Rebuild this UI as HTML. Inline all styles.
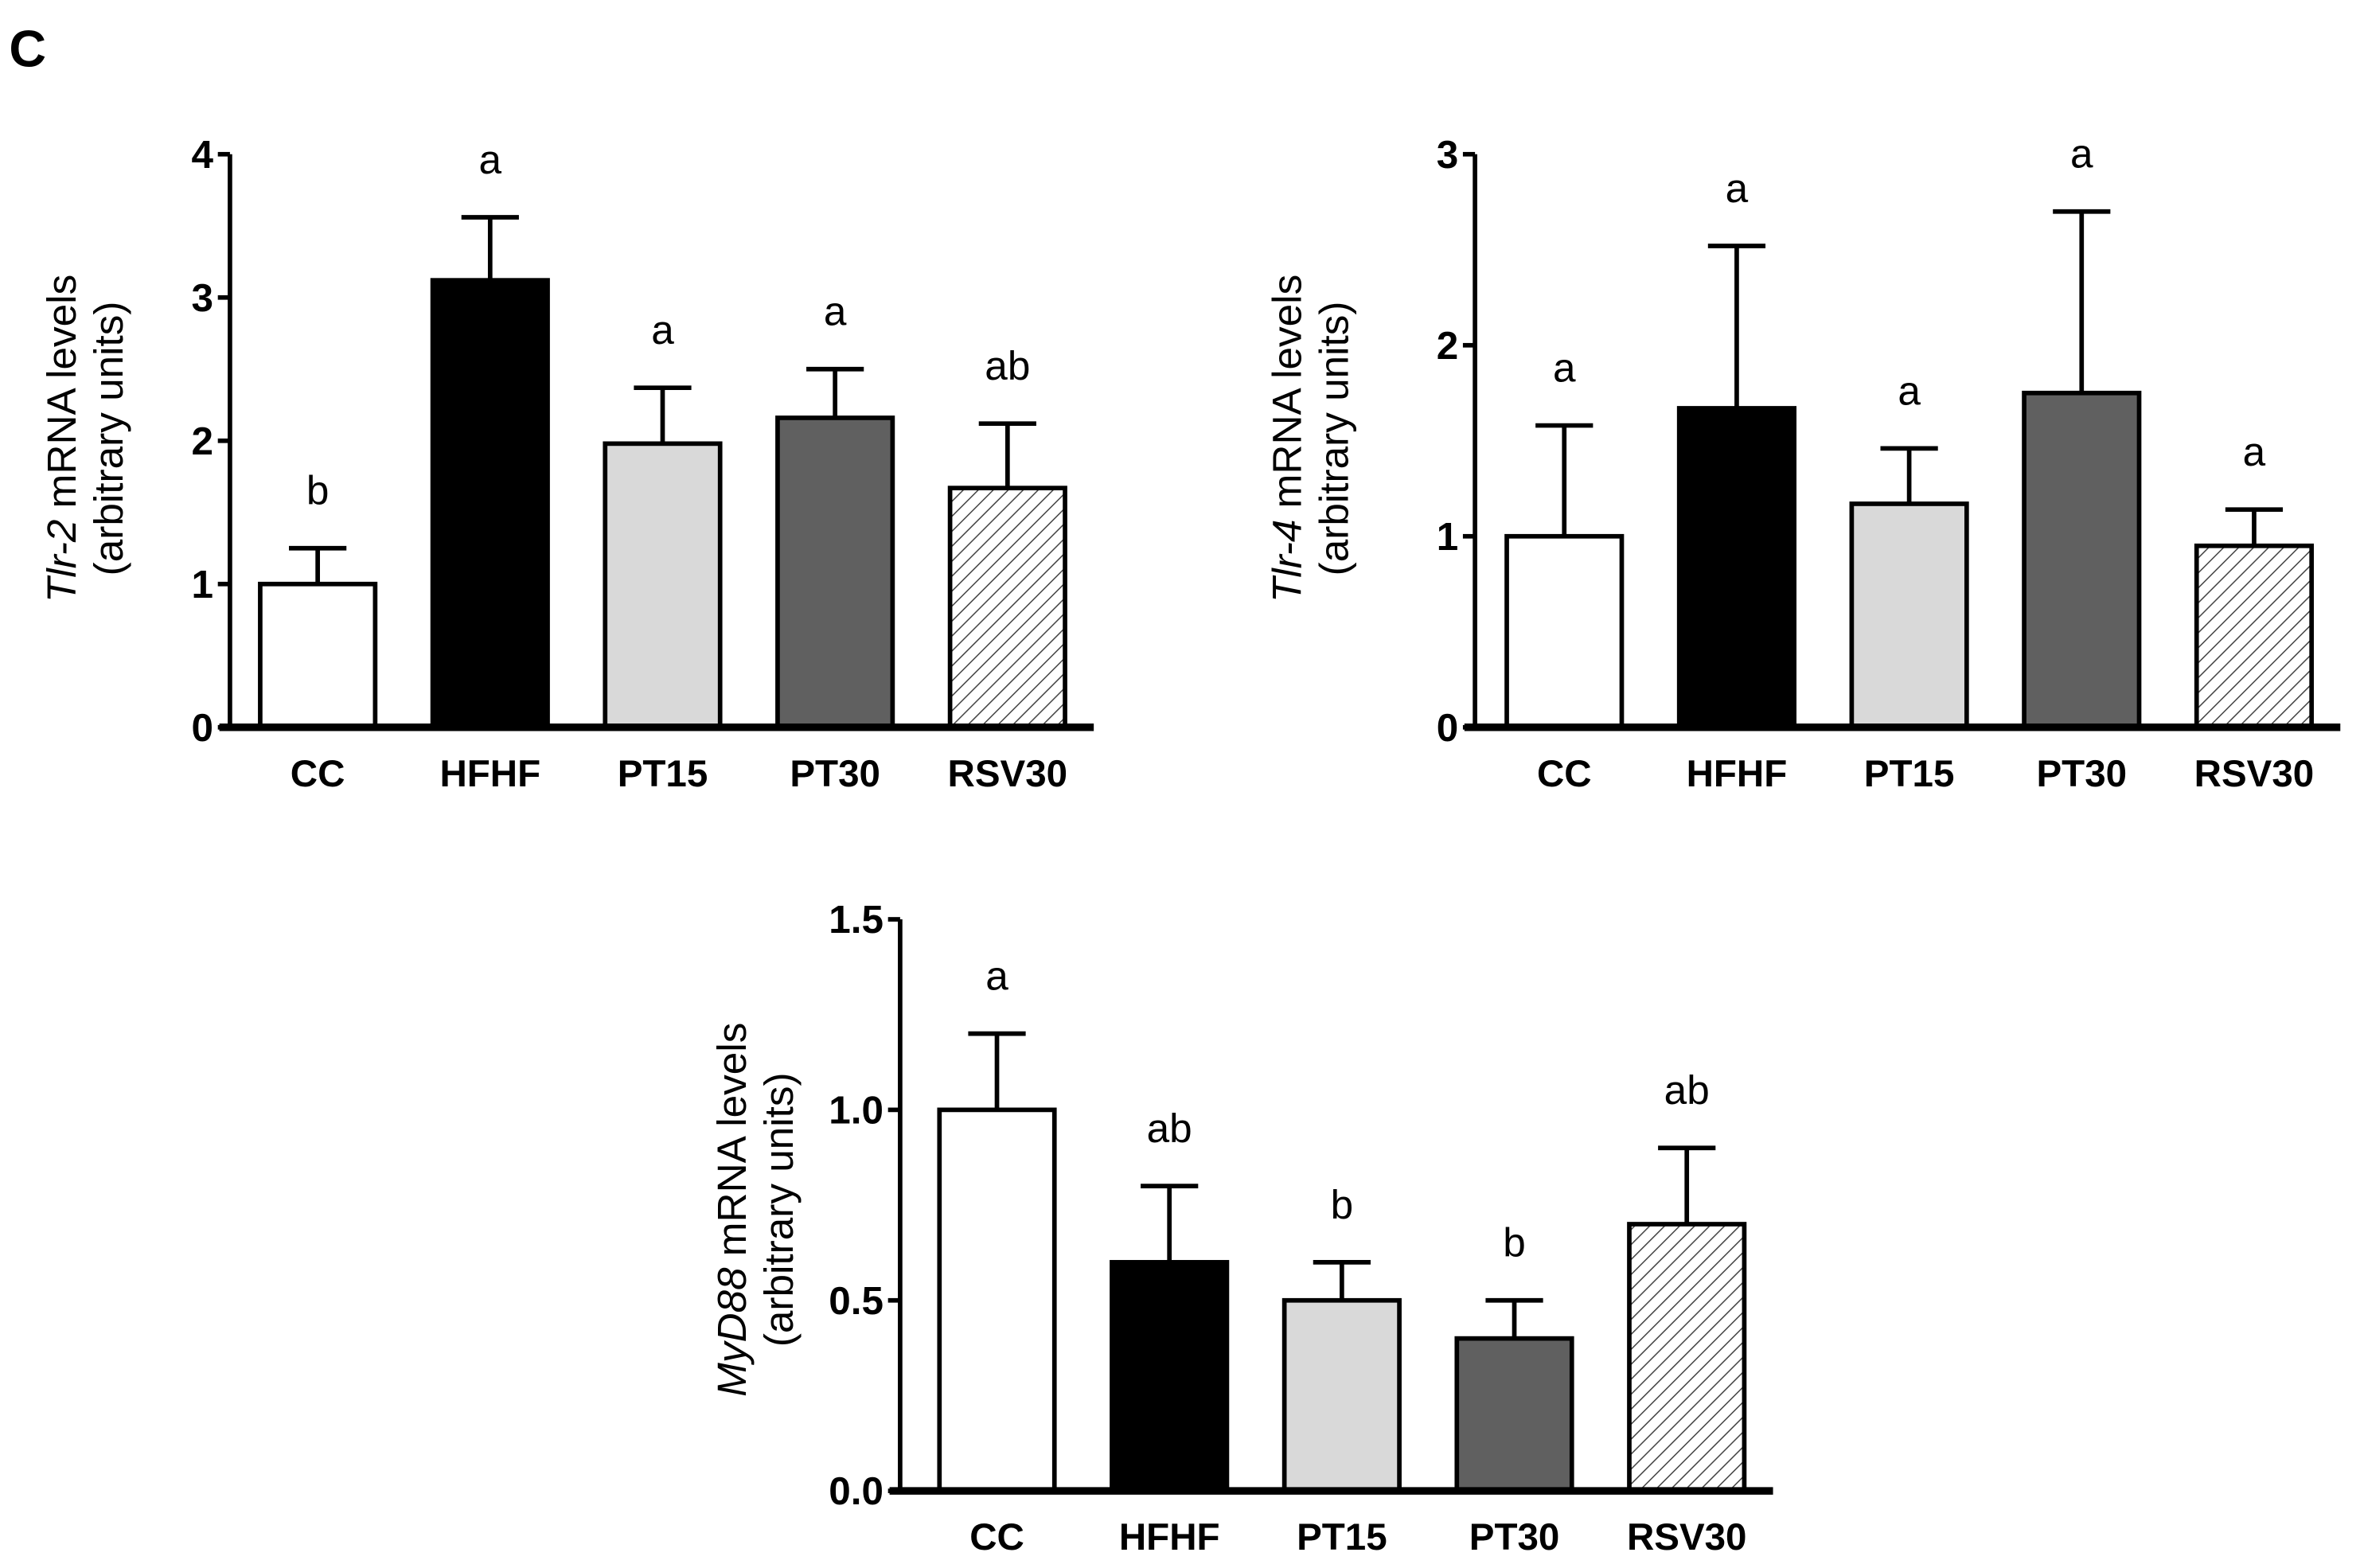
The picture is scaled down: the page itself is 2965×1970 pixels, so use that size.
<!DOCTYPE html>
<html><head><meta charset="utf-8"><style>html,body{margin:0;padding:0;background:#fff}svg{display:block}</style></head>
<body>
<svg id="fig" width="2965" height="1970" viewBox="0 0 1560 1037" preserveAspectRatio="none" xmlns="http://www.w3.org/2000/svg" font-family="'Liberation Sans', Arial, sans-serif">
<defs>
<pattern id="hatch" patternUnits="userSpaceOnUse" width="7" height="7" patternTransform="rotate(45)">
<rect width="7" height="7" fill="#fff"/><line x1="0" y1="0" x2="0" y2="7" stroke="#444" stroke-width="1.6"/>
</pattern>
</defs>
<text x="6" y="44" font-size="34" font-weight="bold">C</text>
</svg>
<script>
const categories = ["CC","HFHF","PT15","PT30","RSV30"];
const tlr2Values = [1.0, 3.12, 1.98, 2.16, 1.67];
const tlr2Errors = [1.25, 3.56, 2.37, 2.50, 2.12];
const tlr2Letters = ["b","a","a","a","ab"];
const tlr2Ticks = ["0","1","2","3","4"];
const tlr4Values = [1.0, 1.67, 1.17, 1.75, 0.95];
const tlr4Errors = [1.58, 2.52, 1.46, 2.70, 1.14];
const tlr4Letters = ["a","a","a","a","a"];
const tlr4Ticks = ["0","1","2","3"];
const myd88Values = [1.0, 0.6, 0.5, 0.4, 0.7];
const myd88Errors = [1.2, 0.8, 0.6, 0.5, 0.9];
const myd88Letters = ["a","ab","b","b","ab"];
const myd88Ticks = ["0.0","0.5","1.0","1.5"];

const fills = ["#ffffff","#000000","#d9d9d9","#606060","url(#hatch)"];
const svg = document.getElementById('fig');
const NS = "http://www.w3.org/2000/svg";
function mk(tag, attrs, parent){const e=document.createElementNS(NS,tag);for(const k in attrs)e.setAttribute(k,attrs[k]);(parent||svg).appendChild(e);return e;}

function chart(opt){
  const g = mk('g',{});
  
  
  const yMax = parseFloat(opt.ticks[opt.ticks.length-1]);
  const yS = v => opt.y0 - (v / yMax) * (opt.y0 - opt.yTop);
  const xS = i => opt.x0 + i * opt.step;
  opt.values.forEach((v,i)=>{
    const cx = xS(i), w = 76;
    const eb = mk('line',{x1:cx,x2:cx,y1:yS(v),y2:yS(opt.errors[i]),stroke:'#000','stroke-width':3},g);
    
    
    const cap = mk('line',{x1:cx-19,x2:cx+19,y1:yS(opt.errors[i]),y2:yS(opt.errors[i]),stroke:'#000','stroke-width':3},g);
    
    
    const r = mk('rect',{x:cx-w/2,y:yS(v),width:w,height:opt.y0-yS(v),fill:fills[i],stroke:'#000','stroke-width':3},g);
    
    
    const lt = mk('text',{x:cx,y:yS(opt.errors[i])-29,'text-anchor':'middle','font-size':27},g);
    lt.textContent = opt.letters[i];
    
    
    const cl = mk('text',{x:cx,y:opt.y0+39,'text-anchor':'middle','font-size':25,'font-weight':'bold'},g);
    cl.textContent = categories[i];
    
    
  });
  const ya = mk('line',{x1:opt.ax,x2:opt.ax,y1:opt.yTop,y2:opt.y0+2,stroke:'#000','stroke-width':3},g);
  
  
  const xa = mk('line',{x1:opt.ax-7,x2:xS(4)+57,y1:opt.y0,y2:opt.y0,stroke:'#000','stroke-width':5},g);
  
  
  opt.ticks.forEach(t=>{
    const y = yS(parseFloat(t));
    mk('line',{x1:opt.ax-8,x2:opt.ax,y1:y,y2:y,stroke:'#000','stroke-width':3},g);
    const tl = mk('text',{x:opt.ax-11,y:y+9,'text-anchor':'end','font-size':26,'font-weight':'bold'},g);
    tl.textContent = t;
    
    
  });
  const tt = mk('text',{transform:`translate(${opt.tx},${opt.ty}) rotate(-90)`,'text-anchor':'middle','font-size':27},g);
  const it = mk('tspan',{'font-style':'italic'},tt); it.textContent = opt.gene;
  const rt = mk('tspan',{},tt); rt.textContent = ' mRNA levels';
  
  
  const t2 = mk('text',{transform:`translate(${opt.tx+31},${opt.ty}) rotate(-90)`,'text-anchor':'middle','font-size':27},g);
  t2.textContent = '(arbitrary units)';
  
  
}
chart({name:'tlr2-chart',values:tlr2Values,errors:tlr2Errors,letters:tlr2Letters,ticks:tlr2Ticks,ax:152,x0:210,step:114,y0:481,yTop:102,gene:'Tlr-2',tx:50,ty:290});
chart({name:'tlr4-chart',values:tlr4Values,errors:tlr4Errors,letters:tlr4Letters,ticks:tlr4Ticks,ax:975,x0:1034,step:114,y0:481,yTop:102,gene:'Tlr-4',tx:860,ty:290});
chart({name:'myd88-chart',values:myd88Values,errors:myd88Errors,letters:myd88Letters,ticks:myd88Ticks,ax:595,x0:659,step:114,y0:986,yTop:608,gene:'MyD88',tx:493,ty:800});
</script>
</body></html>
